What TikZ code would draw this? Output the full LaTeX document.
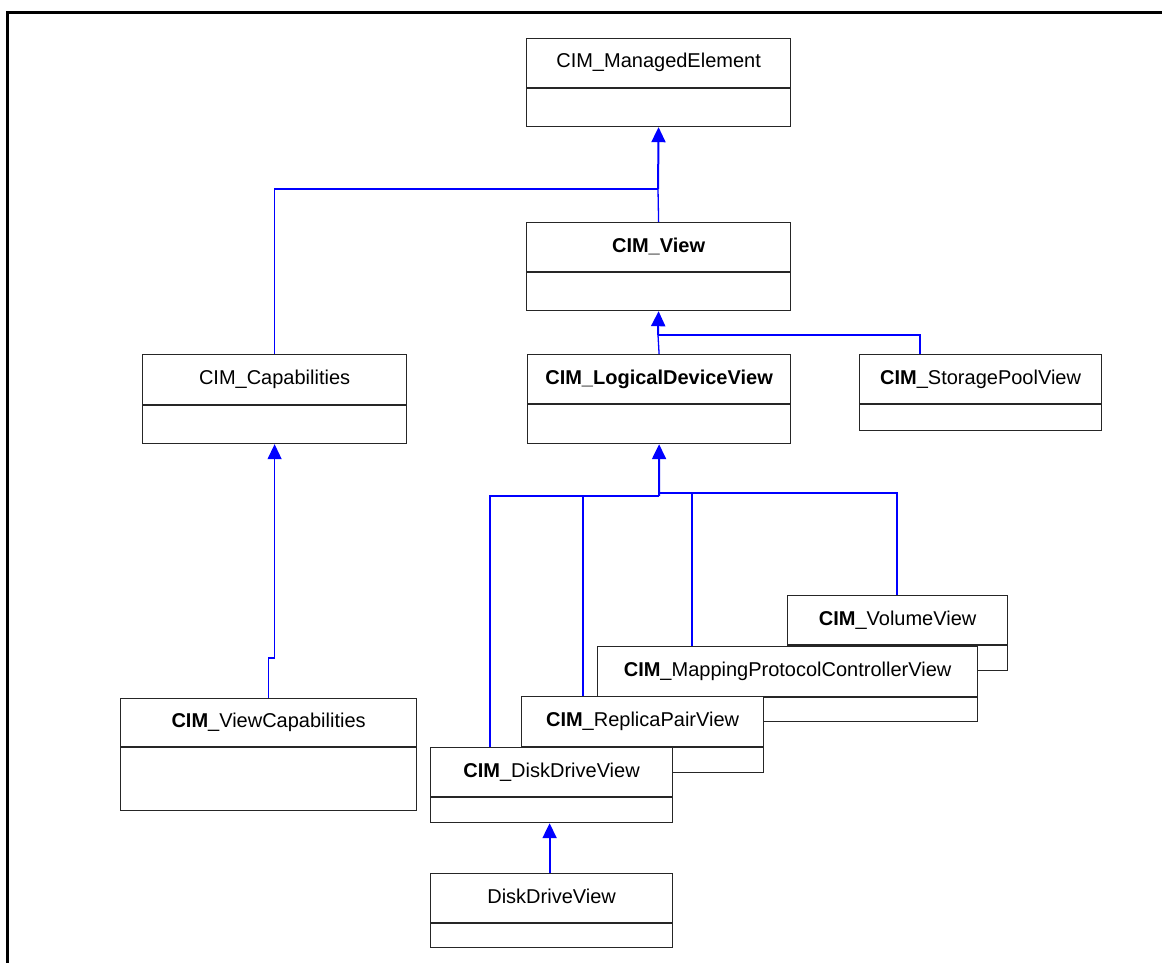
\documentclass[tikz,border=0pt]{standalone}
\usepackage{fontspec}
\setmainfont{Liberation Sans}
\usetikzlibrary{arrows.meta}

\tikzset{
	classbox/.style={draw=black!85, line width=1.2pt, fill=white, inner sep=0pt},
	classtitle/.style={font=\fontsize{20}{24}\selectfont, text height=14pt, text depth=4pt, inner sep=0pt},
	link/.style={draw=blue, line width=1.3pt},
	stem/.style={draw=blue, line width=2pt, -{Triangle[width=14pt, length=15pt]}},
	frame/.style={draw=black, line width=3pt}
}

% name, left, top, width, title height, total height, title
\newcommand{\umlclass}[7]{%
	\node[classbox, minimum width=#4, minimum height=#6, anchor=north west] (#1) at (#2,#3) {};
	\draw[draw=black!85, line width=1.2pt] ([yshift=-#5]#1.north west) -- ([yshift=-#5]#1.north east);
	\node[classtitle] (#1-title) at ([yshift=-#5/2]#1.north) {#7};
}

\begin{document}
\begin{tikzpicture}[x=1pt, y=-1pt]
	\useasboundingbox (0,0) rectangle (1162,963);
	\draw[frame] (7,963) -- (7,13) -- (1162,13);

	% junctions
	\coordinate (j1) at (658,189);
	\coordinate (j2) at (658,335);
	\coordinate (j3) at (659,496);
	\coordinate (j4) at (659,493);

	% boxes that the connectors start from
	\umlclass{me}{526}{38}{264}{50}{88}{CIM\_ManagedElement}
	\umlclass{view}{526}{222}{264}{50}{88}{\textbf{CIM\_View}}
	\umlclass{cap}{142}{354}{264}{51}{89}{CIM\_Capabilities}
	\umlclass{ldv}{527}{354}{263}{50}{89}{\textbf{CIM\_LogicalDeviceView}}
	\umlclass{spv}{859}{354}{242}{50}{76}{\textbf{CIM}\_StoragePoolView}
	\umlclass{vc}{120}{698}{296}{49}{112}{\textbf{CIM}\_ViewCapabilities}

	% connectors
	\draw[link] (view.north) -- (j1);
	\draw[link] (cap.north) |- (j1);
	\draw[stem] (j1) -- (me.south);

	\draw[link] (ldv.north) -- (j2);
	\draw[link] ([xshift=61pt]spv.north west) |- (j2);
	\draw[stem] (j2) -- (view.south);

	\draw[link, -{Triangle[width=14pt, length=15pt]}] (vc.north) -- ++(0,-40) -| (cap.south);

	\coordinate (dd-in) at (490,747);
	\coordinate (rp-in) at (583,696);
	\coordinate (mp-in) at (692,646);
	\coordinate (vv-in) at (897,595);
	\draw[link] (dd-in) |- (j3);
	\draw[link] (rp-in) |- (j3);
	\draw[link] (mp-in) |- (j4);
	\draw[link] (vv-in) |- (j4);
	\draw[stem] (j3) -- (ldv.south);

	% stacked views, back to front
	\umlclass{vv}{787}{595}{220}{50}{75}{\textbf{CIM}\_VolumeView}
	\umlclass{mp}{597}{646}{380}{51}{75}{\textbf{CIM}\_MappingProtocolControllerView}
	\umlclass{rp}{521}{696}{242}{51}{76}{\textbf{CIM}\_ReplicaPairView}
	\umlclass{dd}{430}{747}{242}{50}{75}{\textbf{CIM}\_DiskDriveView}

	\umlclass{ddv}{430}{873}{242}{50}{74}{DiskDriveView}
	\draw[stem] ([xshift=-2pt]ddv.north) -- ([xshift=-2pt]dd.south);
\end{tikzpicture}
\end{document}
